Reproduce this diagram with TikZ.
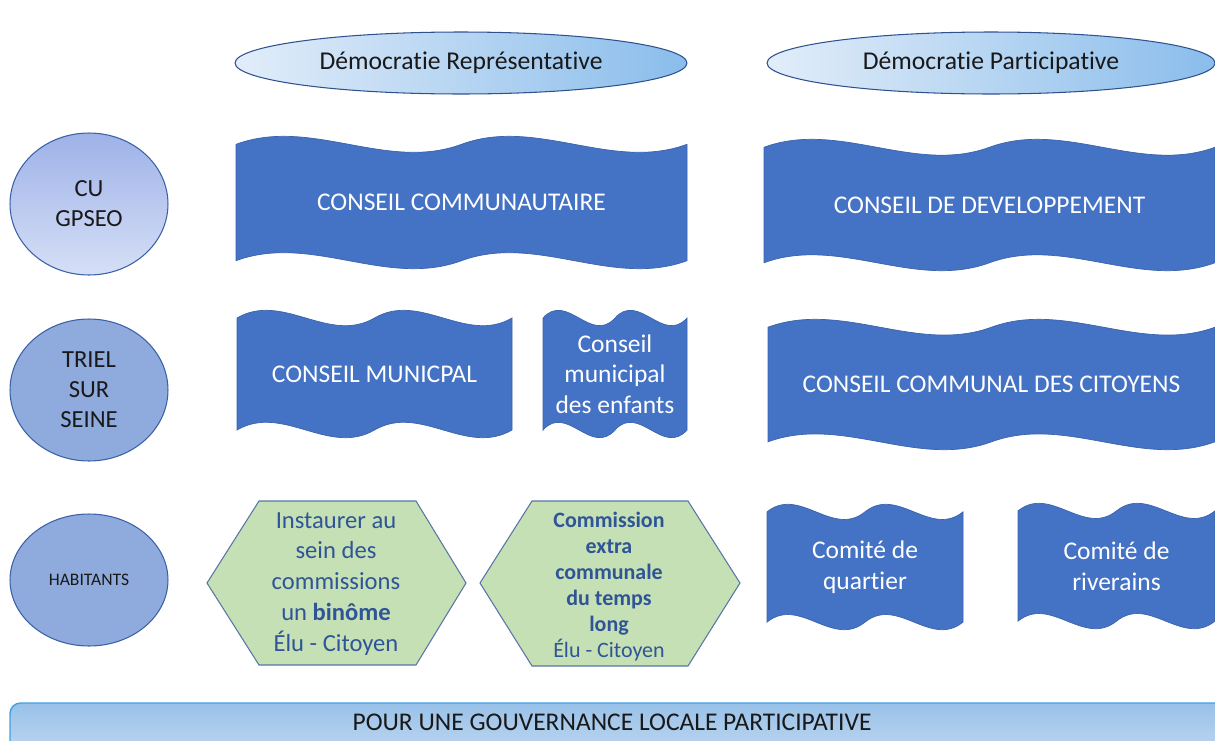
\documentclass[tikz,border=0pt]{standalone}
\usepackage{fontspec}
\setmainfont{Carlito}[Ligatures=NoCommon]
\usetikzlibrary{shapes.geometric}
\definecolor{waveblue}{RGB}{68,114,196}
\definecolor{edgeblue}{RGB}{47,82,143}
\definecolor{hexgreen}{RGB}{197,224,180}
\definecolor{hexink}{RGB}{47,85,151}
\definecolor{circblue}{RGB}{143,170,220}
\definecolor{circtop}{RGB}{158,178,232}
\definecolor{circbot}{RGB}{214,223,246}
\definecolor{ovalleft}{RGB}{226,237,249}
\definecolor{ovalright}{RGB}{138,189,235}
\definecolor{bartop}{RGB}{152,193,232}
\definecolor{barbot}{RGB}{216,231,247}
\definecolor{barline}{RGB}{66,160,226}

% double wave banner: name, left, top, right, bottom, text
\newcommand{\wavebanner}[6]{%
  \pgfmathsetmacro{\wvl}{#2}\pgfmathsetmacro{\wvr}{#4}
  \pgfmathsetmacro{\wvw}{#4-#2}
  \pgfmathsetmacro{\wva}{#3+0.0625*(#5-#3)}
  \pgfmathsetmacro{\wvb}{#5-0.0625*(#5-#3)}
  \pgfmathsetmacro{\wvd}{0.0625*(#5-#3)*10/3}
  \path[wavefill] (\wvl,\wva)
    .. controls ({\wvl+\wvw/6},{\wva-\wvd}) and ({\wvl+\wvw/3},{\wva+\wvd}) .. ({\wvl+\wvw/2},\wva)
    .. controls ({\wvl+2*\wvw/3},{\wva-\wvd}) and ({\wvl+5*\wvw/6},{\wva+\wvd}) .. (\wvr,\wva)
    -- (\wvr,\wvb)
    .. controls ({\wvr-\wvw/6},{\wvb+\wvd}) and ({\wvr-\wvw/3},{\wvb-\wvd}) .. ({\wvl+\wvw/2},\wvb)
    .. controls ({\wvl+\wvw/3},{\wvb+\wvd}) and ({\wvl+\wvw/6},{\wvb-\wvd}) .. (\wvl,\wvb)
    -- cycle;
  \node[wavetext] (#1) at ({(#2+#4)/2},{(#3+#5)/2}) {#6};
}

\begin{document}
\begin{tikzpicture}[x=0.02cm, y=-0.02cm,
    wavefill/.style={fill=waveblue, draw=edgeblue!45!waveblue, line width=0.4pt},
    wavetext/.style={text=white, align=center, font=\fontsize{14.5}{17.5}\selectfont},
    oval/.style={ellipse, draw=edgeblue, line width=0.6pt, left color=ovalleft, right color=ovalright,
        minimum width=9.04cm, minimum height=1.24cm, inner sep=0pt, text=black!90,
        font=\fontsize{14.6}{17}\selectfont},
    level/.style={ellipse, draw=waveblue!85!black, line width=0.6pt, minimum width=3.16cm,
        minimum height=2.84cm, inner sep=0pt, align=center, text=black!90,
        font=\fontsize{14}{17}\selectfont},
    hexshape/.style={fill=hexgreen, draw=edgeblue!80, line width=0.6pt},
    hextext/.style={text=hexink, align=center},
    barfill/.style={top color=bartop, bottom color=barbot, draw=barline, line width=0.8pt, rounded corners=6pt}]

    \useasboundingbox (0,0) rectangle (1215,741);
    \clip (0,0) rectangle (1215,741);

    % === Column heads ===
    \node[oval] (rep) at (461,63) {Démocratie Représentative};
    \node[oval, minimum width=8.96cm] (part) at (991,63) {Démocratie Participative};

    % === Levels on the left ===
    \node[level, top color=circtop, bottom color=circbot] (cu) at (89,204) {CU\\GPSEO};
    \node[level, fill=circblue] (triel) at (89,390) {TRIEL\\SUR\\SEINE};
    \node[level, fill=circblue, minimum height=2.64cm, font=\fontsize{10}{12}\selectfont] (hab) at (89,580) {HABITANTS};

    % === Upper line ===
    \wavebanner{communautaire}{236}{136}{687}{269}{CONSEIL COMMUNAUTAIRE}
    \wavebanner{developpement}{764}{139}{1215}{271}{CONSEIL DE DEVELOPPEMENT}

    % === Middle line ===
    \wavebanner{municipal}{237}{310}{512}{438}{CONSEIL MUNICPAL}
    \wavebanner{enfants}{543}{310}{687}{438}{Conseil\\municipal\\des enfants}
    \wavebanner{citoyens}{768}{319}{1215}{450}{CONSEIL COMMUNAL DES CITOYENS}

    % === Lower line ===
    \draw[hexshape] (207,583) -- (259,501) -- (416,501) -- (466,583) -- (416,665) -- (259,665) -- cycle;
    \node[hextext, font=\fontsize{14}{17.6}\selectfont] (binome) at (336,584)
        {Instaurer au\\sein des\\commissions\\un \textbf{binôme}\\Élu - Citoyen};
    \draw[hexshape] (480,583) -- (532,501) -- (688,501) -- (740,583) -- (688,666) -- (532,666) -- cycle;
    \node[hextext, font=\fontsize{12.5}{14.8}\selectfont] (tempslong) at (609,587)
        {\textbf{Commission}\\\textbf{extra}\\\textbf{communale}\\\textbf{du temps}\\\textbf{long}\\Élu - Citoyen};
    \wavebanner{quartier}{767}{504}{963}{630}{Comité de\\quartier}
    \wavebanner{riverains}{1018}{503}{1215}{629}{Comité de\\riverains}

    % === Bottom band ===
    \path[barfill] (10,703) rectangle (1240,790);
    \node[text=black!90, font=\fontsize{14.5}{16}\selectfont] (gouv) at (612,722) {POUR UNE GOUVERNANCE LOCALE PARTICIPATIVE};
\end{tikzpicture}
\end{document}
